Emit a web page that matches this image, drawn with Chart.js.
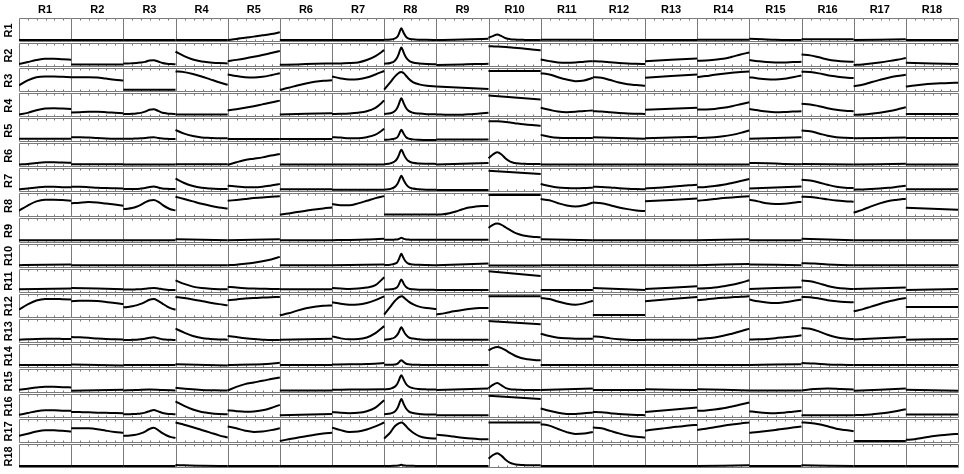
<!DOCTYPE html>
<html lang="en">
<head>
  <meta charset="utf-8" />
  <title>Curve matrix R1 - R18</title>
  <script src="https://cdn.jsdelivr.net/npm/chart.js@4.4.1/dist/chart.umd.min.js"></script>
  <style>
    html, body { margin: 0; padding: 0; background: #fff; }
    #matrix { display: block; }
  </style>
</head>
<body>
  <canvas id="matrix" width="964" height="474"></canvas>

  <script>
    // column / row names
    const names = ['R1', 'R2', 'R3', 'R4', 'R5', 'R6', 'R7', 'R8', 'R9', 'R10', 'R11', 'R12', 'R13', 'R14', 'R15', 'R16', 'R17', 'R18'];

    // sample positions (0..1 across a cell) used by the sharp R8 column
    const r8T = [0, 0.12, 0.2, 0.25, 0.28, 0.305, 0.33, 0.355, 0.38, 0.42, 0.47, 0.55, 0.67, 0.82, 1];

    // one array per row, one curve per column (height in the cell, 0 = floor)
    const row1 = [
      [0, 0], [0, 0], [0, 0], [0, 0],
      [0, 0.06, 0.13, 0.19, 0.26, 0.33, 0.43],
      [0, 0], [0, 0],
      [0.01, 0.03, 0.08, 0.17, 0.33, 0.52, 0.65, 0.52, 0.36, 0.18, 0.08, 0.04, 0.02, 0.01, 0],
      [0, 0.02, 0.05, 0.07],
      [0.13, 0.22, 0.31, 0.22, 0.1, 0.05, 0.03, 0.02, 0.01, 0, 0, 0, 0],
      [0.02, 0.02], [0, 0], [0, 0], [0.02, 0.02],
      [0.07, 0.04, 0.01, 0, 0],
      [0.04, 0.04], [0, 0.04], [0, 0]
    ];
    const row2 = [
      [0.06, 0.17, 0.28, 0.35, 0.35, 0.32, 0.3],
      [0.04, 0.04],
      [0.09, 0.09, 0.1, 0.11, 0.14, 0.18, 0.25, 0.27, 0.2, 0.12, 0.08, 0.06, 0.05],
      [0.74, 0.5, 0.31, 0.2, 0.15, 0.11, 0.09],
      [0.22, 0.29, 0.37, 0.46, 0.56, 0.67, 0.78],
      [0.02, 0.04, 0.07, 0.09],
      [0.09, 0.09, 0.11, 0.15, 0.28, 0.5, 0.83],
      [0.07, 0.12, 0.23, 0.42, 0.62, 0.84, 0.98, 0.84, 0.65, 0.42, 0.25, 0.14, 0.09, 0.06, 0.05],
      [0, 0.02, 0.04, 0.06, 0.07],
      [1.05, 1.03, 1.0, 0.96, 0.92, 0.87, 0.83],
      [0.31, 0.22, 0.15, 0.13, 0.15, 0.19, 0.22],
      [0.22, 0.2, 0.16, 0.12, 0.09, 0.07, 0.06],
      [0.22, 0.37],
      [0.24, 0.26, 0.3, 0.35, 0.46, 0.59, 0.7],
      [0.28, 0.22, 0.17, 0.15, 0.15, 0.17, 0.18],
      [0.59, 0.54, 0.43, 0.31, 0.24, 0.2, 0.19],
      [0, 0.04, 0.09, 0.15, 0.22, 0.3, 0.39],
      [0.13, 0.06]
    ];
    const row3 = [
      [0.26, 0.54, 0.72, 0.76, 0.76, 0.74, 0.72],
      [0.72, 0.72, 0.72, 0.7, 0.64, 0.58, 0.54],
      [0.02, 0.02],
      [1.04, 1.0, 0.9, 0.76, 0.6, 0.44, 0.3],
      [0.87, 0.78, 0.72, 0.7, 0.74, 0.83, 0.94],
      [0.02, 0.13, 0.26, 0.37, 0.46, 0.52, 0.55],
      [0.76, 0.65, 0.59, 0.61, 0.7, 0.87, 1.06],
      [0.03, 0.45, 0.74, 0.88, 0.95, 0.99, 1.0, 0.98, 0.93, 0.8, 0.63, 0.45, 0.32, 0.24, 0.2],
      [0.2, 0.07],
      [1.06, 1.06],
      [0.94, 0.87, 0.72, 0.59, 0.5, 0.54, 0.69],
      [0.72, 0.69, 0.56, 0.43, 0.33, 0.28, 0.24],
      [0.69, 0.87],
      [0.72, 0.78, 0.85, 0.91, 0.96, 1.0, 1.04],
      [0.72, 0.65, 0.6, 0.59, 0.63, 0.72, 0.81],
      [1.02, 1.0, 0.93, 0.83, 0.76, 0.7, 0.67],
      [0.22, 0.3, 0.44, 0.57, 0.69, 0.78, 0.85],
      [0.2, 0.26, 0.31, 0.35, 0.38, 0.4, 0.41]
    ];
    const row4 = [
      [0.04, 0.13, 0.28, 0.37, 0.39, 0.37, 0.35],
      [0.15, 0.17, 0.19, 0.19, 0.17, 0.14, 0.11],
      [0.07, 0.07, 0.08, 0.1, 0.13, 0.2, 0.3, 0.33, 0.24, 0.14, 0.1, 0.08, 0.07],
      [0.04, 0.04],
      [0.26, 0.33, 0.41, 0.5, 0.6, 0.7, 0.81],
      [0.04, 0.11],
      [0.07, 0.08, 0.1, 0.14, 0.22, 0.41, 0.81],
      [0.07, 0.11, 0.22, 0.4, 0.6, 0.81, 0.94, 0.81, 0.63, 0.4, 0.24, 0.14, 0.09, 0.06, 0.05],
      [0.04, 0.03, 0.02, 0.03, 0.06, 0.09, 0.13],
      [1.09, 0.87],
      [0.41, 0.3, 0.2, 0.17, 0.19, 0.24, 0.26],
      [0.22, 0.2, 0.16, 0.12, 0.09, 0.08, 0.07],
      [0.3, 0.41],
      [0.31, 0.32, 0.35, 0.41, 0.5, 0.61, 0.72],
      [0.35, 0.27, 0.2, 0.17, 0.18, 0.2, 0.22],
      [0.63, 0.6, 0.5, 0.39, 0.3, 0.25, 0.22],
      [0.02, 0.04, 0.08, 0.14, 0.22, 0.32, 0.44],
      [0.07, 0.07]
    ];
    const row5 = [
      [0.09, 0.09],
      [0.17, 0.17, 0.15, 0.12, 0.1, 0.09, 0.09],
      [0.09, 0.09, 0.09, 0.1, 0.11, 0.13, 0.16, 0.17, 0.13, 0.1, 0.08, 0.07, 0.07],
      [0.57, 0.37, 0.24, 0.16, 0.13, 0.11, 0.11],
      [0.07, 0.07], [0.07, 0.07],
      [0.17, 0.15, 0.11, 0.11, 0.17, 0.31, 0.63],
      [0.03, 0.05, 0.09, 0.16, 0.3, 0.47, 0.59, 0.47, 0.33, 0.17, 0.09, 0.05, 0.03, 0.02, 0.02],
      [0.04, 0.04],
      [1.06, 1.05, 1.01, 0.95, 0.89, 0.84, 0.8],
      [0.3, 0.2, 0.14, 0.12, 0.12, 0.13, 0.13],
      [0.17, 0.09],
      [0.11, 0.2],
      [0.13, 0.14, 0.17, 0.22, 0.3, 0.41, 0.54],
      [0.09, 0.17],
      [0.54, 0.5, 0.38, 0.25, 0.17, 0.14, 0.13],
      [0.11, 0.15],
      [0.13, 0.13]
    ];
    const row6 = [
      [0.04, 0.08, 0.13, 0.17, 0.17, 0.15, 0.14],
      [0.06, 0.06], [0.04, 0.04], [0.06, 0.06],
      [0.02, 0.17, 0.3, 0.37, 0.44, 0.54, 0.63],
      [0.04, 0.04], [0.04, 0.04],
      [0.06, 0.11, 0.21, 0.37, 0.55, 0.75, 0.87, 0.75, 0.58, 0.38, 0.23, 0.14, 0.1, 0.09, 0.08],
      [0.04, 0.13],
      [0.39, 0.6, 0.72, 0.6, 0.36, 0.2, 0.13, 0.1, 0.09, 0.08, 0.08, 0.07, 0.07],
      [0.04, 0.04], [0.04, 0.04], [0.04, 0.04], [0.04, 0.04],
      [0.13, 0.11, 0.08, 0.06],
      [0.07, 0.04], [0.04, 0.09], [0.04, 0.04]
    ];
    const row7 = [
      [0.06, 0.1, 0.16, 0.2, 0.2, 0.18, 0.17],
      [0.2, 0.2, 0.18, 0.15, 0.13, 0.12, 0.11],
      [0.07, 0.07, 0.08, 0.08, 0.1, 0.13, 0.19, 0.22, 0.16, 0.11, 0.09, 0.08, 0.07],
      [0.65, 0.41, 0.24, 0.14, 0.1, 0.08, 0.07],
      [0.26, 0.22, 0.18, 0.17, 0.2, 0.27, 0.35],
      [0.06, 0.06], [0.04, 0.04],
      [0.04, 0.08, 0.18, 0.34, 0.51, 0.69, 0.81, 0.69, 0.53, 0.34, 0.19, 0.1, 0.06, 0.04, 0.03],
      [0.02, 0.02],
      [1.09, 0.91],
      [0.35, 0.24, 0.16, 0.13, 0.12, 0.13, 0.15],
      [0.2, 0.19, 0.16, 0.12, 0.09, 0.07, 0.06],
      [0.11, 0.13, 0.16, 0.2, 0.24, 0.28, 0.31],
      [0.17, 0.19, 0.24, 0.31, 0.41, 0.52, 0.63],
      [0.11, 0.22],
      [0.59, 0.55, 0.44, 0.31, 0.2, 0.15, 0.13],
      [0.04, 0.05, 0.07, 0.1, 0.14, 0.2, 0.26],
      [0.06, 0.06]
    ];
    const row8 = [
      [0.26, 0.55, 0.78, 0.87, 0.87, 0.85, 0.82],
      [0.67, 0.71, 0.74, 0.72, 0.66, 0.6, 0.54],
      [0.35, 0.37, 0.41, 0.48, 0.59, 0.72, 0.83, 0.85, 0.76, 0.59, 0.44, 0.33, 0.28],
      [1.04, 0.91, 0.78, 0.65, 0.54, 0.44, 0.39],
      [0.81, 0.86, 0.91, 0.96, 1.0, 1.03, 1.06],
      [0.04, 0.11, 0.19, 0.26, 0.33, 0.39, 0.44],
      [0.63, 0.57, 0.57, 0.67, 0.81, 0.96, 1.07],
      [0.05, 0.05],
      [0.04, 0.06, 0.12, 0.22, 0.34, 0.44, 0.49, 0.52, 0.53],
      [1.13, 1.13],
      [0.91, 0.84, 0.68, 0.55, 0.49, 0.56, 0.72],
      [0.72, 0.68, 0.57, 0.44, 0.35, 0.28, 0.24],
      [0.78, 0.94],
      [0.81, 0.86, 0.91, 0.96, 1.0, 1.03, 1.06],
      [0.87, 0.78, 0.67, 0.63, 0.65, 0.7, 0.76],
      [1.04, 1.02, 0.96, 0.89, 0.83, 0.79, 0.76],
      [0.15, 0.31, 0.5, 0.67, 0.8, 0.87, 0.93],
      [0.43, 0.31]
    ];
    const row9 = [
      [0.02, 0.02], [0.02, 0.02], [0.02, 0.02],
      [0.07, 0.02], [0.02, 0.07], [0.02, 0.02],
      [0.02, 0.03, 0.05, 0.09],
      [0.04, 0.04, 0.05, 0.06, 0.08, 0.12, 0.15, 0.12, 0.09, 0.06, 0.05, 0.04, 0.04, 0.04, 0.04],
      [0.04, 0.04],
      [0.7, 0.87, 0.94, 0.87, 0.72, 0.57, 0.44, 0.35, 0.28, 0.24, 0.21, 0.19, 0.18],
      [0.07, 0.02], [0.02, 0.02], [0.02, 0.02], [0.02, 0.07],
      [0.02, 0.02], [0.09, 0.02], [0.02, 0.02], [0.02, 0.02]
    ];
    const row10 = [
      [0.02, 0.06], [0.02, 0.02], [0.02, 0.02], [0.02, 0.02],
      [0.02, 0.05, 0.1, 0.16, 0.24, 0.34, 0.48],
      [0.02, 0.02], [0.02, 0.06],
      [0.03, 0.05, 0.1, 0.18, 0.34, 0.52, 0.65, 0.52, 0.37, 0.2, 0.1, 0.06, 0.04, 0.03, 0.02],
      [0.02, 0.11],
      [0, 0],
      [0.02, 0.02], [0.02, 0.02], [0.02, 0.02], [0.02, 0.09],
      [0.06, 0.02],
      [0.13, 0.11, 0.06, 0.03, 0.02],
      [0.02, 0.02], [0.02, 0.02]
    ];
    const row11 = [
      [0.07, 0.11], [0.15, 0.07],
      [0.06, 0.06, 0.06, 0.07, 0.08, 0.1, 0.13, 0.15, 0.12, 0.08, 0.05, 0.04, 0.04],
      [0.57, 0.37, 0.22, 0.14, 0.1, 0.08, 0.07],
      [0.22, 0.17, 0.13, 0.11, 0.1, 0.09, 0.09],
      [0.07, 0.07],
      [0.15, 0.12, 0.09, 0.11, 0.17, 0.3, 0.74],
      [0.05, 0.07, 0.11, 0.19, 0.33, 0.5, 0.61, 0.5, 0.35, 0.2, 0.11, 0.07, 0.05, 0.05, 0.04],
      [0.04, 0.04],
      [1.07, 0.81],
      [0.04, 0.04], [0.15, 0.04], [0.09, 0.24],
      [0.11, 0.13, 0.17, 0.24, 0.32, 0.44, 0.57],
      [0.09, 0.19],
      [0.56, 0.52, 0.4, 0.26, 0.16, 0.11, 0.09],
      [0.09, 0.17], [0.04, 0.09]
    ];
    const row12 = [
      [0.33, 0.62, 0.84, 0.93, 0.93, 0.91, 0.89],
      [0.8, 0.82, 0.83, 0.81, 0.76, 0.7, 0.65],
      [0.46, 0.48, 0.52, 0.57, 0.65, 0.76, 0.88, 0.92, 0.82, 0.67, 0.52, 0.4, 0.33],
      [1.04, 0.98, 0.9, 0.81, 0.72, 0.64, 0.57],
      [0.85, 0.9, 0.95, 0.98, 1.0, 1.02, 1.04],
      [0.02, 0.13, 0.28, 0.41, 0.5, 0.55, 0.57],
      [0.74, 0.66, 0.61, 0.62, 0.7, 0.86, 1.07],
      [0.06, 0.5, 0.8, 0.94, 1.01, 1.05, 1.07, 1.05, 1.0, 0.9, 0.78, 0.64, 0.5, 0.42, 0.37],
      [0.06, 0.14, 0.24, 0.32, 0.38, 0.42, 0.43],
      [1.07, 1.07],
      [0.98, 0.92, 0.78, 0.66, 0.61, 0.68, 0.83],
      [0.04, 0.04],
      [0.8, 1.04],
      [0.85, 0.9, 0.95, 0.99, 1.02, 1.05, 1.07],
      [0.89, 0.8, 0.73, 0.7, 0.74, 0.81, 0.89],
      [1.04, 1.02, 0.95, 0.86, 0.8, 0.76, 0.74],
      [0.24, 0.35, 0.5, 0.65, 0.78, 0.9, 0.98],
      [0.48, 0.48]
    ];
    const row13 = [
      [0.06, 0.08, 0.1, 0.11, 0.11, 0.1, 0.09],
      [0.2, 0.19, 0.16, 0.12, 0.09, 0.08, 0.07],
      [0.04, 0.04, 0.05, 0.06, 0.08, 0.11, 0.16, 0.19, 0.14, 0.08, 0.06, 0.05, 0.04],
      [0.67, 0.45, 0.26, 0.15, 0.1, 0.07, 0.06],
      [0.26, 0.2, 0.14, 0.09, 0.06, 0.04, 0.04],
      [0.06, 0.11],
      [0.24, 0.13, 0.08, 0.09, 0.18, 0.42, 0.81],
      [0.06, 0.1, 0.18, 0.32, 0.47, 0.64, 0.74, 0.64, 0.5, 0.32, 0.19, 0.12, 0.08, 0.05, 0.05],
      [0.05, 0.05],
      [1.09, 0.91],
      [0.39, 0.26, 0.17, 0.13, 0.11, 0.11, 0.11],
      [0.24, 0.2, 0.13, 0.08, 0.05, 0.04, 0.04],
      [0.06, 0.06],
      [0.11, 0.13, 0.18, 0.27, 0.39, 0.52, 0.67],
      [0.07, 0.08, 0.1, 0.14, 0.19, 0.24, 0.3],
      [0.7, 0.66, 0.52, 0.33, 0.19, 0.12, 0.09],
      [0.07, 0.2], [0.06, 0.09]
    ];
    const row14 = [
      [0.04, 0.04], [0.07, 0.02], [0.04, 0.04], [0.09, 0.02],
      [0.04, 0.05, 0.07, 0.1, 0.17],
      [0.04, 0.04],
      [0.07, 0.08, 0.1, 0.15],
      [0.05, 0.05, 0.07, 0.11, 0.18, 0.26, 0.31, 0.26, 0.19, 0.11, 0.08, 0.06, 0.05, 0.04, 0.04],
      [0.04, 0.04],
      [0.85, 0.98, 1.04, 0.98, 0.85, 0.7, 0.57, 0.47, 0.4, 0.36, 0.33, 0.31, 0.3],
      [0.04, 0.04], [0.04, 0.04], [0.04, 0.04], [0.04, 0.04],
      [0.04, 0.09],
      [0.15, 0.12, 0.07, 0.05, 0.04],
      [0.04, 0.04], [0.04, 0.04]
    ];
    const row15 = [
      [0.06, 0.12, 0.18, 0.22, 0.22, 0.2, 0.19],
      [0, 0.06],
      [0.02, 0.04, 0.07, 0.04, 0.02],
      [0.17, 0.1, 0.05, 0.03, 0.02],
      [0.02, 0.22, 0.37, 0.46, 0.56, 0.65, 0.74],
      [0.02, 0.02],
      [0.06, 0.07, 0.08, 0.09],
      [0.08, 0.12, 0.22, 0.38, 0.56, 0.75, 0.87, 0.75, 0.59, 0.38, 0.24, 0.15, 0.1, 0.08, 0.07],
      [0.04, 0.13],
      [0.15, 0.33, 0.43, 0.3, 0.15, 0.09, 0.07, 0.06, 0.05, 0.05, 0.04, 0.04, 0.04],
      [0.04, 0.13], [0.04, 0.04], [0.09, 0.04], [0.09, 0.02], [0.02, 0.02],
      [0.02, 0.1, 0.13, 0.1, 0.07],
      [0, 0.13], [0.06, 0]
    ];
    const row16 = [
      [0.06, 0.16, 0.26, 0.31, 0.31, 0.29, 0.28],
      [0.22, 0.21, 0.2, 0.18, 0.17, 0.16, 0.15],
      [0.09, 0.09, 0.1, 0.11, 0.13, 0.18, 0.26, 0.33, 0.25, 0.16, 0.12, 0.1, 0.09],
      [0.8, 0.55, 0.35, 0.22, 0.15, 0.11, 0.09],
      [0.31, 0.26, 0.23, 0.24, 0.31, 0.44, 0.61],
      [0.04, 0.11],
      [0.22, 0.17, 0.15, 0.17, 0.26, 0.46, 0.87],
      [0.09, 0.13, 0.23, 0.41, 0.6, 0.8, 0.93, 0.8, 0.62, 0.41, 0.25, 0.16, 0.1, 0.08, 0.07],
      [0.04, 0.04],
      [1.11, 0.93],
      [0.41, 0.28, 0.17, 0.11, 0.1, 0.14, 0.19],
      [0.22, 0.2, 0.15, 0.1, 0.07, 0.05, 0.04],
      [0.22, 0.46],
      [0.28, 0.3, 0.35, 0.42, 0.52, 0.63, 0.74],
      [0.26, 0.2, 0.16, 0.15, 0.18, 0.23, 0.28],
      [0.04, 0.04],
      [0.04, 0.05, 0.08, 0.13, 0.19, 0.27, 0.37],
      [0.07, 0.07]
    ];
    const row17 = [
      [0.28, 0.4, 0.52, 0.59, 0.59, 0.56, 0.52],
      [0.7, 0.71, 0.7, 0.65, 0.57, 0.5, 0.46],
      [0.28, 0.29, 0.31, 0.35, 0.42, 0.52, 0.66, 0.73, 0.6, 0.43, 0.3, 0.21, 0.17],
      [1.02, 0.9, 0.76, 0.61, 0.46, 0.31, 0.19],
      [0.8, 0.7, 0.57, 0.5, 0.52, 0.6, 0.7],
      [0, 0.09, 0.18, 0.26, 0.34, 0.41, 0.46],
      [0.74, 0.6, 0.5, 0.52, 0.63, 0.81, 1.02],
      [0.13, 0.48, 0.8, 0.92, 0.97, 1.0, 1.02, 1.0, 0.94, 0.82, 0.66, 0.47, 0.27, 0.16, 0.13],
      [0.35, 0.3, 0.24, 0.18, 0.13, 0.1, 0.09],
      [1.02, 1.02],
      [0.93, 0.85, 0.66, 0.49, 0.39, 0.41, 0.5],
      [0.74, 0.7, 0.56, 0.42, 0.3, 0.23, 0.19],
      [0.57, 0.63, 0.69, 0.75, 0.8, 0.85, 0.89],
      [0.61, 0.68, 0.76, 0.84, 0.91, 0.97, 1.02],
      [0.46, 0.5, 0.55, 0.61, 0.68, 0.74, 0.8],
      [1.02, 1.0, 0.93, 0.81, 0.68, 0.6, 0.54],
      [0, 0],
      [0.06, 0.1, 0.18, 0.26, 0.32, 0.36, 0.39]
    ];
    const row18 = [
      [0, 0], [0, 0], [0, 0],
      [0.06, 0.01, 0],
      [0, 0], [0, 0], [0, 0],
      [0, 0, 0.01, 0.02, 0.03, 0.05, 0.07, 0.05, 0.03, 0.02, 0.01, 0.01, 0, 0, 0],
      [0, 0],
      [0.41, 0.6, 0.7, 0.56, 0.33, 0.17, 0.1, 0.07, 0.05, 0.04, 0.04, 0.04, 0.04],
      [0, 0], [0, 0], [0, 0], [0, 0.04], [0, 0], [0.04, 0], [0, 0], [0, 0]
    ];

    const rows = [row1, row2, row3, row4, row5, row6, row7, row8, row9,
                  row10, row11, row12, row13, row14, row15, row16, row17, row18];

    // each row is one unit tall on the y scale, row 1 at the top
    const FLOOR = 0.12, SPAN = 0.72;

    const datasets = [];
    rows.forEach((row, r) => {
      row.forEach((vals, c) => {
        const ts = (c === 7 && vals.length === r8T.length)
          ? r8T
          : vals.map((_, i) => i / (vals.length - 1));
        datasets.push({
          label: names[r] + ' / ' + names[c],
          data: vals.map((v, i) => ({ x: c + ts[i], y: 17 - r + FLOOR + SPAN * v })),
          borderColor: '#000',
          borderWidth: 2,
          pointRadius: 0,
          fill: false,
          cubicInterpolationMode: 'monotone'
        });
      });
    });

    // cell boxes: one frame per panel, rows stacked with a thin gap
    const panelFrames = {
      id: 'panelFrames',
      beforeDatasetsDraw(chart) {
        const { ctx, scales: { x, y } } = chart;
        ctx.save();
        ctx.strokeStyle = '#7a7a7a';
        ctx.lineWidth = 1;
        ctx.beginPath();
        for (let r = 0; r < 18; r++) {
          const top = Math.round(y.getPixelForValue(18 - r)) + 0.5;
          const bot = Math.round(y.getPixelForValue(17 - r)) - 1.5;
          for (let c = 0; c < 18; c++) {
            const left = Math.round(x.getPixelForValue(c)) + 0.5;
            const right = Math.round(x.getPixelForValue(c + 1)) + 0.5;
            ctx.rect(left, top, right - left, bot - top);
            for (let k = 1; k < 6; k++) {
              const tx = Math.round(left + (right - left) * k / 6) + 0.5;
              ctx.moveTo(tx, top); ctx.lineTo(tx, top + 2);
              ctx.moveTo(tx, bot); ctx.lineTo(tx, bot - 2);
            }
          }
        }
        ctx.stroke();
        ctx.restore();
      }
    };

    const labelFont = { family: 'Liberation Sans, Arial, sans-serif', size: 11, weight: 'bold' };

    new Chart(document.getElementById('matrix'), {
      type: 'line',
      data: { datasets },
      options: {
        responsive: false,
        animation: false,
        events: [],
        layout: { padding: { top: 0, left: 0, right: 6, bottom: 5 } },
        plugins: { legend: { display: false }, tooltip: { enabled: false } },
        scales: {
          x: {
            type: 'linear',
            position: 'top',
            min: 0,
            max: 18,
            grid: { display: false },
            border: { display: false },
            afterBuildTicks: axis => { axis.ticks = names.map((_, i) => ({ value: i + 0.5 })); },
            afterFit: axis => { axis.height = 18; },
            ticks: {
              autoSkip: false,
              maxRotation: 0,
              padding: -7,
              color: '#000',
              font: labelFont,
              callback: v => names[Math.floor(v)]
            }
          },
          y: {
            type: 'linear',
            min: 0,
            max: 18,
            grid: { display: false },
            border: { display: false },
            afterBuildTicks: axis => { axis.ticks = names.map((_, i) => ({ value: i + 0.5 })); },
            afterFit: axis => { axis.width = 19; },
            ticks: {
              autoSkip: false,
              minRotation: 90,
              maxRotation: 90,
              crossAlign: 'center',
              padding: -8,
              color: '#000',
              font: labelFont,
              callback: v => names[17 - Math.floor(v)]
            }
          }
        }
      },
      plugins: [panelFrames]
    });
  </script>
</body>
</html>
